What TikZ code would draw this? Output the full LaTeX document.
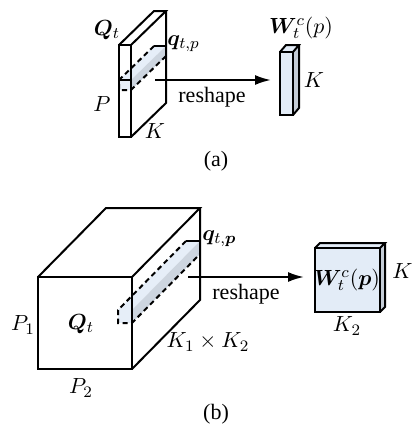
\documentclass[tikz,border=0pt]{standalone}
\usepackage{amsmath,bm}
\usepackage{fontspec}
\setmainfont{Liberation Serif}
\usetikzlibrary{arrows.meta}
\definecolor{stripA}{HTML}{E6EEF8}
\definecolor{stripB}{HTML}{CDD5DF}
\definecolor{wfront}{HTML}{E3ECF7}
\definecolor{wside}{HTML}{C4CCD6}
\tikzset{
  edge/.style={line width=1pt, line join=miter},
  dash line/.style={line width=1pt, dash pattern=on 2.6pt off 1.8pt},
  lbl/.style={inner sep=0pt, font=\fontsize{11}{13}\selectfont},
  arr/.style={line width=1pt, -{Latex[length=8pt,width=5pt]}},
}
\begin{document}
\begin{tikzpicture}[x=0.5pt,y=-0.5pt]
\useasboundingbox (0,0) rectangle (412,429);
% ---------------- (a) ----------------
% strip fill
\fill[stripA] (119,80) -- (131,80) -- (166,46) -- (154,46) -- cycle;
\fill[stripA] (119,80) rectangle (131,90);
\fill[stripB] (131,80) -- (166,46) -- (166,56) -- (131,90) -- cycle;
% slab
\draw[edge] (119,45) rectangle (131,137);
\draw[edge] (119,45) -- (154,11) -- (166,11) -- (131,45);
\draw[edge] (166,11) -- (166,103) -- (131,137);
% strip dashed
\draw[dash line] (154,46) -- (119,80) -- (119,90) -- (131,90) -- (166,56);
\draw[edge] (119,80) -- (131,80);
\draw[edge] (154,46) -- (166,46);
% arrow
\coordinate (a1) at (155,80);
\coordinate (a2) at (271,80);
\draw[arr] (a1) -- (a2);
% W bar
\fill[wfront] (280,52) rectangle (293,115);
\fill[wfront] (280,52) -- (286,45) -- (299,45) -- (293,52) -- cycle;
\fill[wside] (293,52) -- (299,45) -- (299,108) -- (293,115) -- cycle;
\draw[edge] (280,52) rectangle (293,115);
\draw[edge] (280,52) -- (286,45) -- (299,45) -- (293,52);
\draw[edge] (299,45) -- (299,108) -- (293,115);
% labels (a)
\node[lbl] (qa) at (107,30) {$\boldsymbol{Q}_t$};
\node[lbl, anchor=west] (qtpa) at (167,44) {$\boldsymbol{q}_{t,p}$};
\node[lbl] (pa) at (102,104) {$P$};
\node[lbl] (ka) at (155,131) {$K$};
\node[lbl] (ra) at (212,97) {reshape};
\node[lbl] (wa) at (301,28) {$\boldsymbol{W}_t^c(p)$};
\node[lbl] (kwa) at (314,80) {$K$};
\node[lbl] (capa) at (216,161) {(a)};
% ---------------- (b) ----------------
\fill[stripA] (118,310) -- (132,310) -- (200,241) -- (186,241) -- cycle;
\fill[stripA] (118,310) rectangle (132,323);
\fill[stripB] (132,310) -- (200,241) -- (200,254) -- (132,323) -- cycle;
% cube
\draw[edge] (38,277) rectangle (132,369);
\draw[edge] (38,277) -- (106,208) -- (200,208) -- (132,277);
\draw[edge] (200,208) -- (200,300) -- (132,369);
% tube dashed
\draw[dash line] (186,241) -- (118,310) -- (118,323) -- (132,323) -- (200,254);
\draw[edge] (186,241) -- (200,241);
% arrow
\coordinate (b1) at (188,277);
\coordinate (b2) at (304,277);
\draw[arr] (b1) -- (b2);
% W box
\fill[wfront] (315,248) rectangle (380,312);
\fill[wfront] (315,248) -- (320,243) -- (385,243) -- (380,248) -- cycle;
\fill[wside] (380,248) -- (385,243) -- (385,307) -- (380,312) -- cycle;
\draw[edge] (315,248) rectangle (380,312);
\draw[edge] (315,248) -- (320,243) -- (385,243) -- (380,248);
\draw[edge] (385,243) -- (385,307) -- (380,312);
% labels (b)
\node[lbl] (qb) at (81,324) {$\boldsymbol{Q}_t$};
\node[lbl] (p1) at (23,325) {$P_1$};
\node[lbl] (p2) at (81,388) {$P_2$};
\node[lbl] (kk) at (208,342) {$K_1\times K_2$};
\node[lbl, anchor=west] (qtpb) at (202,239) {$\boldsymbol{q}_{t,\boldsymbol{p}}$};
\node[lbl] (rb) at (246,294) {reshape};
\node[lbl] (wb) at (347,280) {$\boldsymbol{W}_t^c(\boldsymbol{p})$};
\node[lbl, anchor=west] (k1) at (392,273) {$K_1$};
\node[lbl] (k2) at (347,326) {$K_2$};
\node[lbl] (capb) at (216,414) {(b)};
\end{tikzpicture}
\end{document}
